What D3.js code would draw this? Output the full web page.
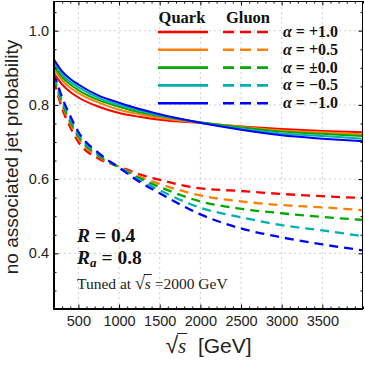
<!DOCTYPE html>
<html><head><meta charset="utf-8">
<script src="https://cdn.jsdelivr.net/npm/d3@7"></script>
<style>body{margin:0;background:#fff}svg{display:block}</style>
</head><body>
<svg id="c" width="365" height="366"></svg>
<script>
// ---- data ----
const sqrtS = [200, 300, 400, 500, 750, 1000, 1250, 1500, 2000, 2500, 3000, 3500, 4000];
const alphas = ["+1.0", "+0.5", "\u00b10.0", "\u22120.5", "\u22121.0"];
const quark = [
  [0.885, 0.855, 0.835, 0.820, 0.795, 0.778, 0.768, 0.760, 0.751, 0.742, 0.735, 0.730, 0.726],
  [0.897, 0.867, 0.846, 0.832, 0.806, 0.787, 0.775, 0.765, 0.752, 0.741, 0.731, 0.726, 0.721],
  [0.905, 0.875, 0.855, 0.840, 0.813, 0.795, 0.780, 0.770, 0.753, 0.739, 0.728, 0.722, 0.716],
  [0.913, 0.882, 0.862, 0.848, 0.819, 0.800, 0.785, 0.772, 0.752, 0.736, 0.723, 0.716, 0.709],
  [0.922, 0.890, 0.870, 0.855, 0.825, 0.806, 0.789, 0.775, 0.752, 0.733, 0.718, 0.709, 0.702]
];
const gluon = [
  [0.865, 0.790, 0.740, 0.700, 0.655, 0.634, 0.613, 0.598, 0.575, 0.568, 0.560, 0.554, 0.549],
  [0.870, 0.800, 0.750, 0.710, 0.660, 0.633, 0.607, 0.587, 0.556, 0.540, 0.530, 0.524, 0.516],
  [0.875, 0.805, 0.755, 0.715, 0.663, 0.632, 0.603, 0.579, 0.540, 0.520, 0.508, 0.498, 0.490],
  [0.880, 0.812, 0.762, 0.720, 0.667, 0.632, 0.598, 0.570, 0.523, 0.497, 0.476, 0.462, 0.446],
  [0.885, 0.820, 0.770, 0.727, 0.670, 0.631, 0.593, 0.562, 0.505, 0.467, 0.443, 0.424, 0.408]
];
const xTicks = [500, 1000, 1500, 2000, 2500, 3000, 3500];
const yTicks = [0.4, 0.6, 0.8, 1.0];
const colors = ["#ff0000", "#ff8000", "#00a800", "#00b0b0", "#0000ff"];

// ---- layout ----
const W = 365, H = 366;
const m = {l: 54, r: 2, t: 1, b: 57};
const svg = d3.select("#c");
const x = d3.scaleLinear().domain([200, 4000]).range([m.l, W - m.r]);
const y = d3.scaleLinear().domain([0.25, 1.08]).range([H - m.b, m.t]);
const x0 = m.l, x1 = W - m.r, y0 = H - m.b, y1 = m.t;

// grid
const grid = svg.append("g").attr("stroke", "#cfcfcf").attr("stroke-width", 1).attr("stroke-dasharray", "2,3");
xTicks.forEach(v => grid.append("line").attr("x1", x(v)).attr("x2", x(v)).attr("y1", y0).attr("y2", y1));
yTicks.forEach(v => grid.append("line").attr("y1", y(v)).attr("y2", y(v)).attr("x1", x0).attr("x2", x1));

// curves
svg.append("clipPath").attr("id", "clip").append("rect")
  .attr("x", x0).attr("y", y1).attr("width", x1 - x0).attr("height", y0 - y1);
const line = d3.line().x((d, i) => x(sqrtS[i])).y(d => y(d)).curve(d3.curveMonotoneX);
const cg = svg.append("g").attr("clip-path", "url(#clip)").attr("fill", "none");
gluon.forEach((s, k) => cg.append("path").attr("d", line(s)).attr("stroke", colors[k])
  .attr("stroke-width", 2.3).attr("stroke-dasharray", "9,6"));
quark.forEach((s, k) => cg.append("path").attr("d", line(s)).attr("stroke", colors[k])
  .attr("stroke-width", 2));

// axes (ticks inward on all sides)
const minorX = d3.range(200, 4001, 100).filter(v => !xTicks.includes(v));
const minorY = d3.range(0.25, 1.0801, 0.05).map(v => +v.toFixed(2)).filter(v => !yTicks.includes(v));
svg.append("g").attr("transform", `translate(0,${y0})`)
  .call(d3.axisBottom(x).tickValues(xTicks).tickSize(-4.5).tickPadding(7).tickFormat(d3.format("d")))
  .call(g => g.select(".domain").remove());
svg.append("g").attr("transform", `translate(0,${y0})`)
  .call(d3.axisBottom(x).tickValues(minorX).tickSize(-2.5).tickFormat(""))
  .call(g => g.select(".domain").remove());
svg.append("g").attr("transform", `translate(0,${y1})`)
  .call(d3.axisTop(x).tickValues(xTicks).tickSize(-4.5).tickFormat(""))
  .call(g => g.select(".domain").remove());
svg.append("g").attr("transform", `translate(0,${y1})`)
  .call(d3.axisTop(x).tickValues(minorX).tickSize(-2.5).tickFormat(""))
  .call(g => g.select(".domain").remove());
svg.append("g").attr("transform", `translate(${x0},0)`)
  .call(d3.axisLeft(y).tickValues(yTicks).tickSize(-4.5).tickPadding(5).tickFormat(d3.format(".1f")))
  .call(g => g.select(".domain").remove());
svg.append("g").attr("transform", `translate(${x0},0)`)
  .call(d3.axisLeft(y).tickValues(minorY).tickSize(-2.5).tickFormat(""))
  .call(g => g.select(".domain").remove());
svg.append("g").attr("transform", `translate(${x1},0)`)
  .call(d3.axisRight(y).tickValues(yTicks).tickSize(-4.5).tickFormat(""))
  .call(g => g.select(".domain").remove());
svg.append("g").attr("transform", `translate(${x1},0)`)
  .call(d3.axisRight(y).tickValues(minorY).tickSize(-2.5).tickFormat(""))
  .call(g => g.select(".domain").remove());
svg.selectAll(".tick line").attr("stroke", "#000").attr("stroke-width", 1);
svg.selectAll(".tick text").attr("font-family", "Liberation Sans, Arial, sans-serif")
  .attr("font-size", 14.5).attr("fill", "#222");

// frame
svg.append("line").attr("x1", x0).attr("x2", x0).attr("y1", y1).attr("y2", y0 + 1).attr("stroke", "#000").attr("stroke-width", 2);
svg.append("line").attr("x1", x0 - 1).attr("x2", x1).attr("y1", y0).attr("y2", y0).attr("stroke", "#000").attr("stroke-width", 2);
svg.append("line").attr("x1", x0).attr("x2", x1).attr("y1", y1 + 0.5).attr("y2", y1 + 0.5).attr("stroke", "#000").attr("stroke-width", 1);
svg.append("line").attr("x1", x1 - 0.5).attr("x2", x1 - 0.5).attr("y1", y1).attr("y2", y0).attr("stroke", "#000").attr("stroke-width", 1);

// axis labels
svg.append("text").attr("transform", `translate(18,${(y0 + y1) / 2 + 2}) rotate(-90)`)
  .attr("text-anchor", "middle").attr("font-family", "Liberation Sans, Arial, sans-serif")
  .attr("font-size", 19).attr("fill", "#222").text("no associated jet probability");

function sqrtText(g, xPos, yPos, fs, family, pre, post, anchor, rootScale) {
  const t = g.append("text").attr("x", xPos).attr("y", yPos).attr("font-family", family)
    .attr("font-size", fs).attr("fill", "#222").attr("text-anchor", anchor);
  if (pre) t.append("tspan").text(pre);
  t.append("tspan").attr("font-size", fs * rootScale).text("\u221a");
  const s = t.append("tspan").attr("font-style", "italic").attr("font-family", "Liberation Serif, serif").text("s");
  t.append("tspan").text(post);
  const bb = s.node().getBBox();
  const tb = t.node().getBBox();
  g.append("line").attr("x1", bb.x - 1).attr("x2", bb.x + bb.width + 1)
    .attr("y1", tb.y + 1.5).attr("y2", tb.y + 1.5).attr("stroke", "#222").attr("stroke-width", 1);
}
sqrtText(svg, (x0 + x1) / 2, 353, 21, "Liberation Sans, Arial, sans-serif", "", " \u00a0[GeV]", "middle", 1.1);

// annotations
const serif = "Liberation Serif, Times New Roman, serif";
const a1 = svg.append("text").attr("x", 77).attr("y", 242).attr("font-family", serif)
  .attr("font-size", 19.5).attr("font-weight", "bold").attr("fill", "#111");
a1.append("tspan").attr("font-style", "italic").text("R");
a1.append("tspan").text(" = 0.4");
const a2 = svg.append("text").attr("x", 77).attr("y", 264).attr("font-family", serif)
  .attr("font-size", 19.5).attr("font-weight", "bold").attr("fill", "#111");
a2.append("tspan").attr("font-style", "italic").text("R");
a2.append("tspan").attr("font-style", "italic").attr("font-size", 13).attr("dy", 3).text("a");
a2.append("tspan").attr("dy", -3).text(" = 0.8");
sqrtText(svg, 77, 289, 15.5, serif, "Tuned at ", " =2000 GeV", "start", 1.15);

// legend
const lg = svg.append("g").attr("font-family", serif).attr("font-weight", "bold").attr("fill", "#111");
lg.append("text").attr("x", 182).attr("y", 23).attr("text-anchor", "middle").attr("font-size", 16.5).text("Quark");
lg.append("text").attr("x", 248).attr("y", 23).attr("text-anchor", "middle").attr("font-size", 16.5).text("Gluon");
alphas.forEach((a, k) => {
  const yy = 32 + k * 17.8;
  lg.append("line").attr("x1", 158).attr("x2", 208).attr("y1", yy).attr("y2", yy)
    .attr("stroke", colors[k]).attr("stroke-width", 2.6);
  lg.append("line").attr("x1", 223).attr("x2", 272).attr("y1", yy).attr("y2", yy)
    .attr("stroke", colors[k]).attr("stroke-width", 2.6).attr("stroke-dasharray", "11,6");
  const t = lg.append("text").attr("x", 283).attr("y", yy + 5).attr("font-size", 16);
  t.append("tspan").attr("font-style", "italic").text("\u03b1");
  t.append("tspan").text(" = " + a);
});
</script>
</body></html>
